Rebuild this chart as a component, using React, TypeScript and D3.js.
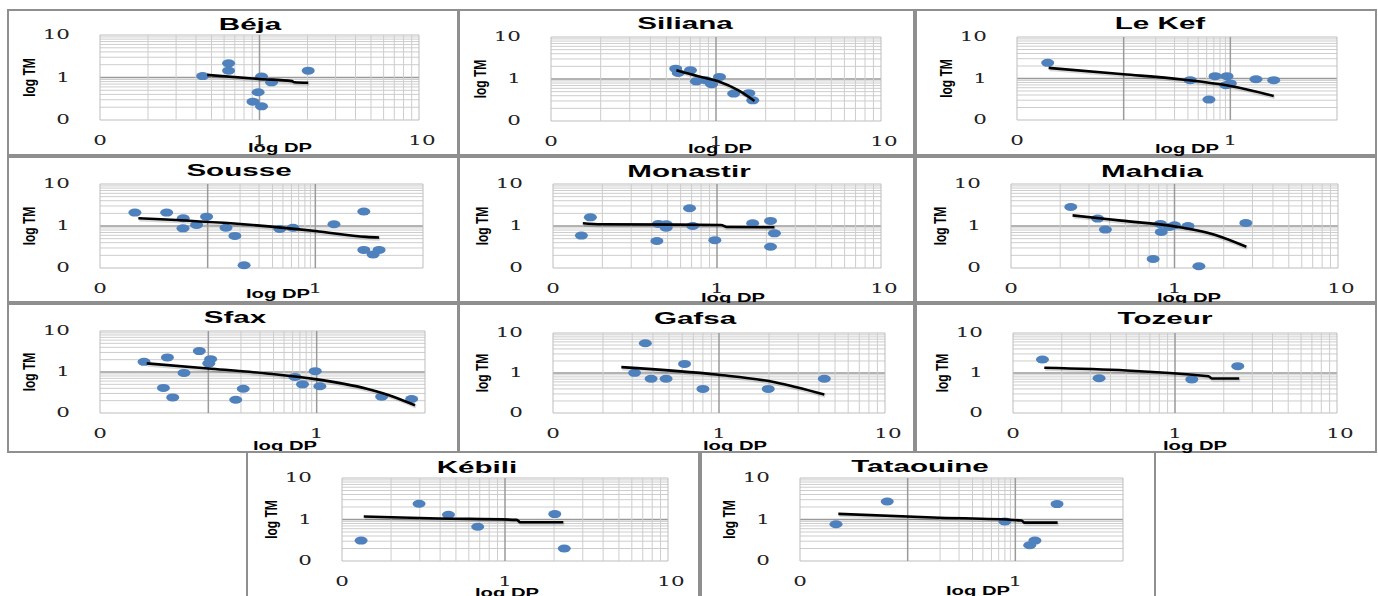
import React from 'react';
import * as d3 from 'd3';

// region names, one per small chart (reading order)
const regions = ['Béja', 'Siliana', 'Le Kef', 'Sousse', 'Monastir', 'Mahdia', 'Sfax', 'Gafsa', 'Tozeur', 'Kébili', 'Tataouine'];

const bejaPoints = [[0.44, 1.08], [0.64, 2.15], [0.64, 1.45], [1.03, 1.05], [1.19, 0.77], [0.98, 0.45], [0.91, 0.27], [1.03, 0.21], [2.02, 1.45]];
const silianaPoints = [[0.57, 1.76], [0.59, 1.39], [0.7, 1.61], [0.76, 0.88], [0.87, 0.93], [0.94, 0.75], [1.05, 1.12], [1.28, 0.45], [1.58, 0.46], [1.67, 0.31]];
const leKefPoints = [[0.0194, 2.38], [0.42, 0.91], [0.63, 0.31], [0.72, 1.14], [0.93, 1.14], [1.0, 0.76], [0.91, 0.69], [1.74, 0.96], [2.55, 0.91]];
const soussePoints = [[0.0211, 2.09], [0.0416, 2.09], [0.0593, 1.53], [0.059, 0.88], [0.0789, 1.06], [0.0977, 1.67], [0.148, 0.91], [0.179, 0.58], [0.218, 0.116], [0.468, 0.85], [0.62, 0.91], [1.49, 1.1], [2.82, 2.21], [2.82, 0.27], [3.44, 0.21], [3.91, 0.27]];
const monastirPoints = [[0.149, 0.59], [0.169, 1.61], [0.43, 0.44], [0.44, 1.12], [0.49, 1.1], [0.49, 0.91], [0.68, 2.65], [0.71, 1.0], [0.97, 0.46], [1.65, 1.16], [2.12, 1.32], [2.24, 0.67], [2.12, 0.32]];
const mahdiaPoints = [[0.232, 2.83], [0.339, 1.5], [0.378, 0.82], [0.74, 0.164], [0.82, 1.12], [0.83, 0.72], [1.0, 1.04], [0.93, 0.95], [1.21, 1.0], [1.41, 0.11], [2.73, 1.18]];
const sfaxPoints = [[0.0255, 1.77], [0.0385, 0.41], [0.0419, 2.27], [0.0469, 0.24], [0.0596, 0.95], [0.0826, 3.24], [0.105, 2.06], [0.101, 1.62], [0.179, 0.21], [0.21, 0.39], [0.63, 0.76], [0.74, 0.5], [0.97, 1.05], [1.07, 0.45], [3.98, 0.25], [7.53, 0.22]];
const gafsaPoints = [[0.31, 1.01], [0.36, 5.53], [0.39, 0.72], [0.48, 0.72], [0.62, 1.69], [0.8, 0.4], [1.98, 0.4], [4.31, 0.72]];
const tozeurPoints = [[0.152, 2.17], [0.34, 0.74], [1.27, 0.69], [2.44, 1.48]];
const kebiliPoints = [[0.131, 0.31], [0.297, 2.39], [0.45, 1.3], [0.68, 0.67], [2.02, 1.35], [2.31, 0.2]];
const tataouinePoints = [[0.0216, 0.77], [0.0646, 2.72], [0.8, 0.9], [1.36, 0.24], [1.52, 0.31], [2.44, 2.35]];

// trendline vertices as drawn (Excel rendering, steps included)
const bejaTrend = [[0.47, 1.15], [1.0, 0.92], [1.6, 0.82], [1.65, 0.77], [2.02, 0.75]];
const silianaTrend = [[0.575, 1.61], [0.78, 1.16], [1.03, 0.88], [1.36, 0.54], [1.71, 0.3]];
const leKefTrend = [[0.0198, 1.8], [0.1, 1.27], [0.35, 0.95], [1.0, 0.66], [2.55, 0.38]];
const sousseTrend = [[0.0227, 1.53], [0.215, 1.1], [1.0, 0.76], [2.98, 0.55], [3.91, 0.53]];
const monastirTrend = [[0.152, 1.16], [0.197, 1.1], [1.06, 1.06], [1.14, 0.95], [2.24, 0.93]];
const mahdiaTrend = [[0.238, 1.79], [0.474, 1.34], [1.0, 0.98], [1.76, 0.62], [2.75, 0.32]];
const sfaxTrend = [[0.027, 1.62], [0.1, 1.22], [0.345, 0.92], [0.97, 0.67], [2.9, 0.39], [5.1, 0.25], [8.09, 0.154]];
const gafsaTrend = [[0.258, 1.4], [0.99, 0.9], [2.17, 0.59], [4.31, 0.29]];
const tozeurTrend = [[0.156, 1.35], [1.61, 0.83], [1.69, 0.73], [2.49, 0.73]];
const kebiliTrend = [[0.136, 1.18], [0.39, 1.06], [1.18, 0.98], [1.24, 0.86], [2.28, 0.86]];
const tataouineTrend = [[0.0227, 1.37], [0.173, 1.12], [1.14, 0.95], [1.22, 0.84], [2.47, 0.84]];

const pointsByRegion = [bejaPoints, silianaPoints, leKefPoints, soussePoints, monastirPoints, mahdiaPoints, sfaxPoints, gafsaPoints, tozeurPoints, kebiliPoints, tataouinePoints];
const trendByRegion = [bejaTrend, silianaTrend, leKefTrend, sousseTrend, monastirTrend, mahdiaTrend, sfaxTrend, gafsaTrend, tozeurTrend, kebiliTrend, tataouineTrend];

// axis ranges and labelled ticks
const xMinByRegion = [0.1, 0.1, 0.01, 0.01, 0.1, 0.1, 0.01, 0.1, 0.1, 0.1, 0.01];
const xLabelsWide = [0.1, 1, 10];
const xLabelsLong = [0.01, 1];
const yDomain = [0.1, 10];
const yLabels = [0.1, 1, 10];

// frame, plot rect [l,t,r,b], title centre, x-axis title centre
const layout = [
  { frame: [8, 10, 450, 145], plot: [100, 35, 419, 120], title: [250, 24], xTitle: [280, 147] },
  { frame: [459, 10, 455, 145], plot: [551, 37, 881, 121], title: [685, 23], xTitle: [720, 148] },
  { frame: [916, 10, 460, 145], plot: [1017, 37, 1337, 120], title: [1160, 23], xTitle: [1187, 148] },
  { frame: [8, 157, 450, 145], plot: [100, 184, 423, 268], title: [239, 170], xTitle: [278, 293] },
  { frame: [459, 157, 455, 145], plot: [553, 184, 881, 268], title: [689, 171], xTitle: [733, 297] },
  { frame: [916, 157, 460, 145], plot: [1011, 184, 1338, 268], title: [1152, 171], xTitle: [1189, 297] },
  { frame: [8, 304, 450, 148], plot: [100, 331, 425, 413], title: [235, 317], xTitle: [285, 445] },
  { frame: [459, 304, 455, 148], plot: [553, 333, 885, 413], title: [695, 318], xTitle: [735, 445] },
  { frame: [916, 304, 460, 148], plot: [1013, 333, 1337, 413], title: [1165, 318], xTitle: [1195, 445] },
  { frame: [247, 452, 452, 150], plot: [342, 478, 668, 561], title: [477, 467], xTitle: [507, 592] },
  { frame: [701, 452, 454, 150], plot: [800, 478, 1123, 561], title: [920, 466], xTitle: [978, 590] },
];

const fmt = d3.format('.0f');
const isDecade = (v) => Math.abs(Math.log10(v) - Math.round(Math.log10(v))) < 1e-6;

function Panel({ name, points, trend, xMin, box }) {
  const [l, t, r, b] = box.plot;
  const x = d3.scaleLog().domain([xMin, 10]).range([l, r]);
  const y = d3.scaleLog().domain(yDomain).range([b, t]);
  const wide = xMin === 0.1;
  const xGrid = x.ticks().filter((v) => isDecade(v) || (v > 0.1 && v < (wide ? 10 : 1)));
  const yGrid = y.ticks();
  const xLabels = wide ? xLabelsWide : xLabelsLong;
  const line = d3.line().x((d) => x(d[0])).y((d) => y(d[1])).curve(d3.curveMonotoneX);
  const [fx, fy, fw, fh] = box.frame;
  const inner = (v) => isDecade(v) && v !== xMin && v !== 10;

  return (
    <g>
      <rect x={fx} y={fy} width={fw} height={fh} fill="#fff" stroke="#8f8f8f" strokeWidth={2} />
      {yGrid.map((v, i) => (
        <line key={'y' + i} x1={l} x2={r} y1={y(v)} y2={y(v)}
          stroke={v === 1 ? '#9a9a9a' : isDecade(v) ? '#bdbdbd' : '#cdcdcd'} strokeWidth={v === 1 ? 1.5 : 1} />
      ))}
      {xGrid.map((v, i) => (
        <line key={'x' + i} x1={x(v)} x2={x(v)} y1={t} y2={b}
          stroke={inner(v) ? '#9a9a9a' : isDecade(v) ? '#bdbdbd' : '#cdcdcd'}
          strokeWidth={inner(v) ? 1.5 : 1} />
      ))}
      <path d={line(trend)} fill="none" stroke="rgba(0,0,0,0.15)" strokeWidth={3.5} transform="translate(1,1.5)" />
      {points.map((d, i) => (
        <ellipse key={i} cx={x(d[0])} cy={y(d[1])} rx={6.5} ry={4} fill="#4F81BD" />
      ))}
      <path d={line(trend)} fill="none" stroke="#000" strokeWidth={2.6} strokeLinejoin="round" />

      <text transform={`translate(${box.title[0]},${box.title[1]}) scale(1.85,1)`} textAnchor="middle"
        dominantBaseline="central" fontFamily="Liberation Sans, Arial, sans-serif" fontWeight="bold" fontSize={16} fill="#000">
        {name}
      </text>
      {yLabels.map((v) => (
        <text key={'yl' + v} transform={`translate(${l - 30},${y(v)}) scale(1.65,1)`} textAnchor="end"
          dominantBaseline="central" fontFamily="DejaVu Serif, serif" fontSize={13} fill="#222">
          {fmt(v)}
        </text>
      ))}
      {xLabels.map((v) => (
        <text key={'xl' + v} transform={`translate(${x(v) + (v === 10 ? 3 : 0)},${b + 21}) scale(1.65,1)`} textAnchor="middle"
          dominantBaseline="central" fontFamily="DejaVu Serif, serif" fontSize={13} fill="#222">
          {fmt(v)}
        </text>
      ))}
      <text transform={`translate(${l - 71},${(t + b) / 2}) rotate(-90) scale(1,1.3)`} textAnchor="middle"
        dominantBaseline="central" fontFamily="Liberation Sans, Arial, sans-serif" fontWeight="bold" fontSize={12} fill="#000">
        log TM
      </text>
      <text transform={`translate(${box.xTitle[0]},${box.xTitle[1]}) scale(1.5,1)`} textAnchor="middle"
        dominantBaseline="central" fontFamily="Liberation Sans, Arial, sans-serif" fontWeight="bold" fontSize={13.5} fill="#000">
        log DP
      </text>
    </g>
  );
}

export default function App() {
  return (
    <svg width={1378} height={596} style={{ position: 'absolute', left: 0, top: 0, background: '#fff' }}>
      {regions.map((name, i) => (
        <Panel key={name} name={name} points={pointsByRegion[i]} trend={trendByRegion[i]}
          xMin={xMinByRegion[i]} box={layout[i]} />
      ))}
    </svg>
  );
}
